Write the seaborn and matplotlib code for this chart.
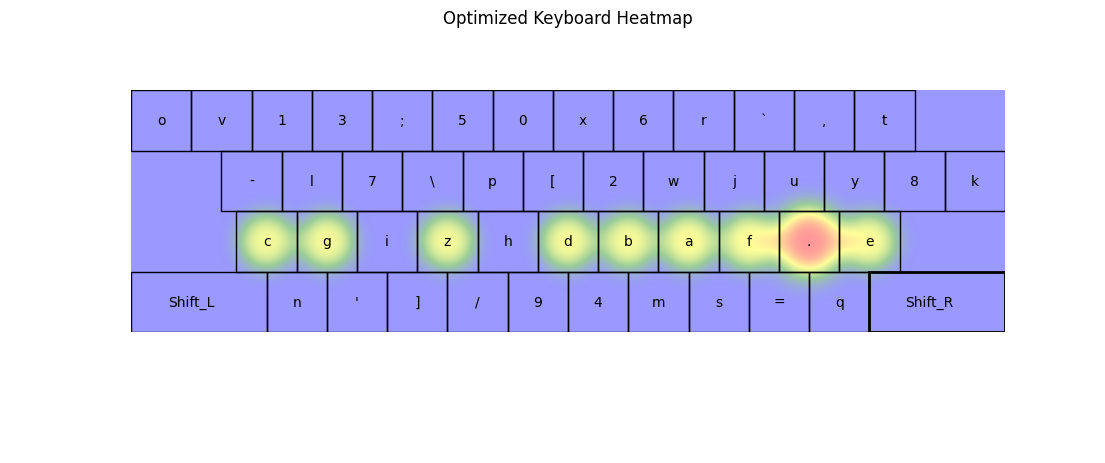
import numpy as np
import matplotlib
matplotlib.use("Agg")
import matplotlib.pyplot as plt
import matplotlib.patches as patches
import seaborn as sns

# ---- data ----
row1 = ['o', 'v', '1', '3', ';', '5', '0', 'x', '6', 'r', '`', ',', 't']
row2 = ['-', 'l', '7', '\\', 'p', '[', '2', 'w', 'j', 'u', 'y', '8', 'k']
row3 = ['c', 'g', 'i', 'z', 'h', 'd', 'b', 'a', 'f', '.', 'e']
row4 = ['Shift_L', 'n', "'", ']', '/', '9', '4', 'm', 's', '=', 'q', 'Shift_R']

heat_keys = ['c', 'g', 'z', 'd', 'b', 'a', 'f', '.', 'e']
heat_vals = [0.63, 0.64, 0.63, 0.64, 0.64, 0.66, 0.66, 1.00, 0.65]

title = "Optimized Keyboard Heatmap"

# ---- layout ----
rows = [row1, row2, row3, row4]
row_offsets = [0.0, 1.5, 1.75, 0.0]
wide_keys = {'Shift_L': 2.25, 'Shift_R': 2.25}
total_w, total_h = 14.5, 4.0

sns.set_style("white")
plt.rcParams['font.family'] = ['DejaVu Sans']
plt.rcParams['text.color'] = 'black'

fig = plt.figure(figsize=(11.05, 4.64), dpi=100)
ax = fig.add_axes([131 / 1105, 131 / 464, 874 / 1105, 242 / 464])

# key geometry
keys = []
for r, (row, off) in enumerate(zip(rows, row_offsets)):
    y = total_h - 1 - r
    x = off
    for k in row:
        w = wide_keys.get(k, 1.0)
        keys.append((k, x, y, w))
        x += w

# heat grid: smooth blob per key, size growing with the key's value
res = 40
gx = (np.arange(int(total_w * res)) + 0.5) / res
gy = (np.arange(int(total_h * res)) + 0.5) / res
XX, YY = np.meshgrid(gx, gy)
heat = np.zeros_like(XX)
s0, p = 0.60, 3.0
lookup = {k: (x + w / 2, y + 0.5) for k, x, y, w in keys}
for k, v in zip(heat_keys, heat_vals):
    cx, cy = lookup[k]
    rr = np.hypot(XX - cx, YY - cy)
    heat += v * np.exp(-(rr / (s0 * np.sqrt(v))) ** p)

cmap = sns.blend_palette(['blue', 'green', 'yellow', 'red'], as_cmap=True)
ax.imshow(heat, extent=(0, total_w, 0, total_h), origin='lower', cmap=cmap,
          vmin=0, vmax=1, alpha=0.4, interpolation='bilinear', aspect='auto')

for k, x, y, w in keys:
    lw = 2 if k == 'Shift_R' else 1
    ax.add_patch(patches.Rectangle((x, y), w, 1, fill=False, edgecolor='black', linewidth=lw))
    ax.text(x + min(w, 2.0) / 2, y + 0.5, k, ha='center', va='center', fontsize=10, color='black')

ax.set_xlim(0, total_w)
ax.set_ylim(0, total_h)
ax.axis('off')
ax.set_title(title, fontsize=12, y=(333 - 24) / 242, pad=0, color='black')

fig.savefig("out.png", dpi=100)
